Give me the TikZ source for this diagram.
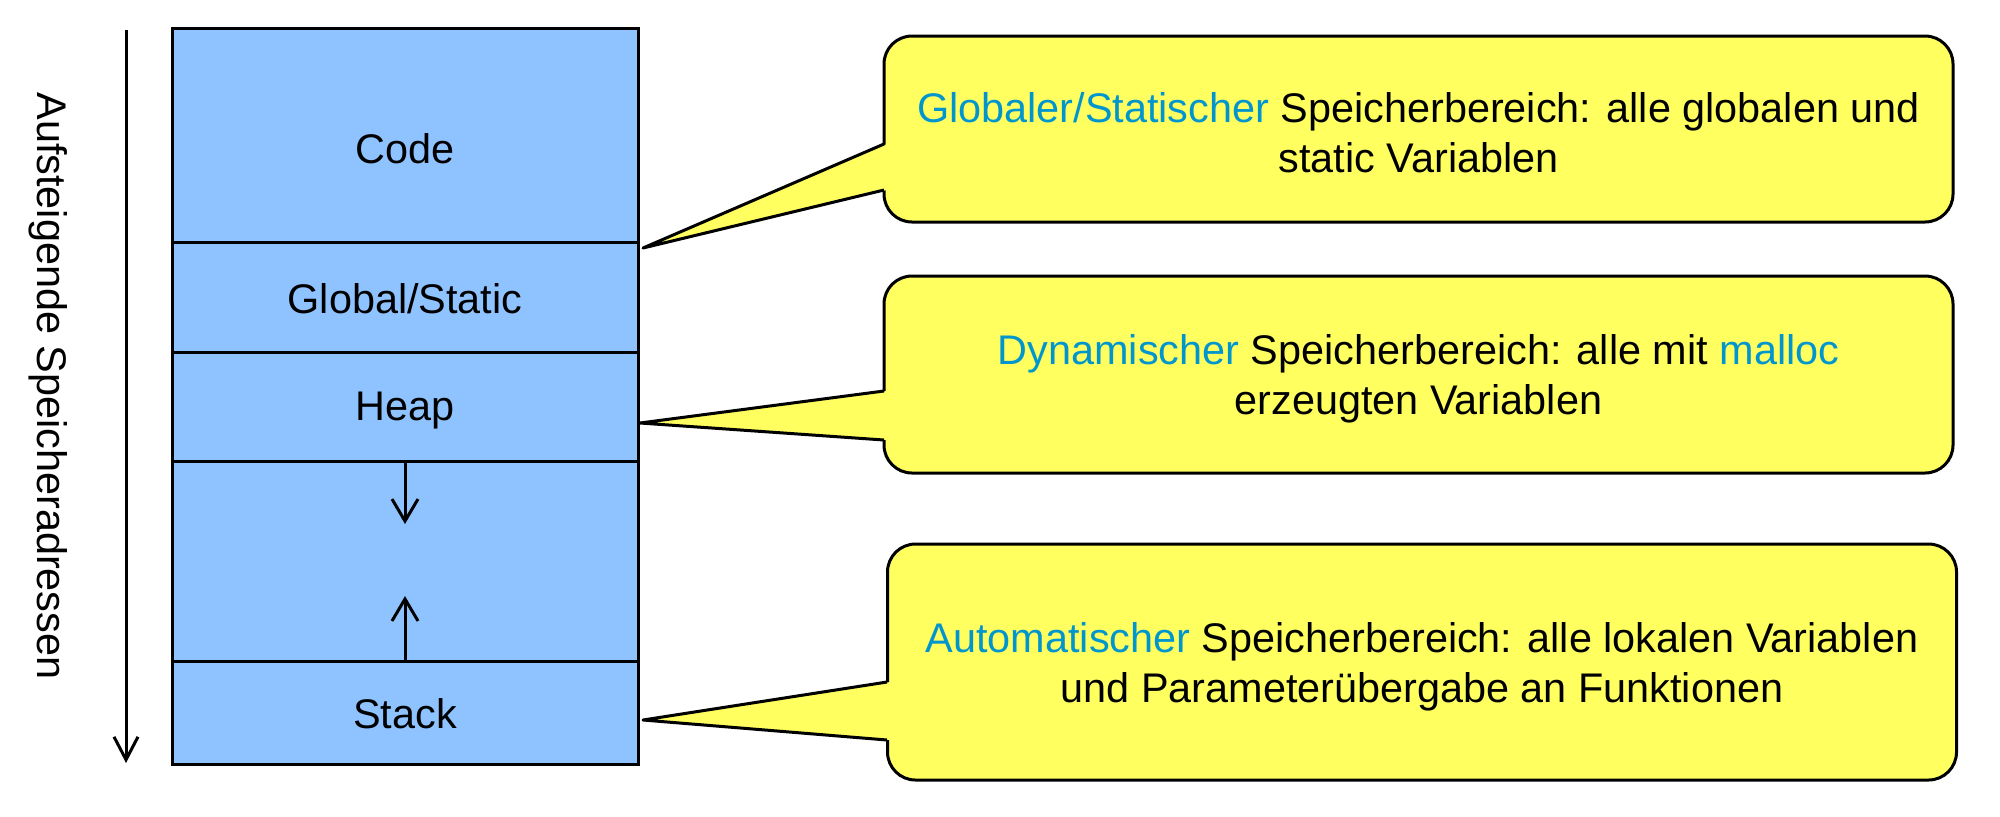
\documentclass[tikz,border=0pt]{standalone}
\usepackage{fontspec}
\setmainfont{Liberation Sans}
\usetikzlibrary{arrows.meta}
\definecolor{memblue}{RGB}{143,195,255}
\definecolor{callyellow}{RGB}{255,255,96}
\definecolor{hiblue}{RGB}{0,150,205}
\newcommand\figfont{\fontsize{20.7}{25}\selectfont}
\begin{document}
\begin{tikzpicture}[x=0.5pt,y=-0.5pt,
  seg/.style={draw=black, line width=1.5pt, fill=memblue, minimum width=233pt, inner sep=0pt},
  segtext/.style={font=\figfont, inner sep=0pt, text height=15pt, text depth=0pt},
  callout/.style={draw=black, line width=1.5pt, fill=callyellow, rounded corners=14pt,
    minimum width=534.5pt, inner sep=0pt},
  calltext/.style={inner sep=0pt, align=center, font=\figfont},
  pointer/.style={draw=black, line width=1.5pt, line join=round},
  growarrow/.style={line width=1.5pt, -{Straight Barb[length=11pt,width=13pt,line width=1.5pt]}},
  addrarrow/.style={line width=1.5pt, -{Straight Barb[length=11.5pt,width=12pt,line width=1.5pt]}}
]
\useasboundingbox (0,0) rectangle (2000,816);

% memory segments
\node[seg, minimum height=107pt]  (code)  at (405,135) {};
\node[seg, minimum height=55pt]   (glob)  at (405,297) {};
\node[seg, minimum height=54.5pt] (heap)  at (405,406.5) {};
\node[seg, minimum height=100pt]  (free)  at (405,561) {};
\node[seg, minimum height=51.5pt] (stack) at (405,712.5) {};

\node[segtext] (codet)  at (405,148) {Code};
\node[segtext] (globt)  at (405,298) {Global/Static};
\node[segtext] (heapt)  at (405,405) {Heap};
\node[segtext] (stackt) at (405,713) {Stack};

% growth arrows
\coordinate (hd) at (405,524);
\coordinate (su) at (405,596);
\draw[growarrow] (free.north) -- (hd);
\draw[growarrow] (free.south) -- (su);

% address arrow and label
\coordinate (aa) at (126,30);
\coordinate (ab) at (126,763);
\draw[addrarrow] (aa) -- (ab);
\node[segtext, rotate=-90] (addr) at (52,386) {Aufsteigende Speicheradressen};

% callouts
\node[callout, minimum height=93pt]   (c1) at (1418.5,129) {};
\node[callout, minimum height=98.5pt] (c2) at (1418.5,374.5) {};
\node[callout, minimum height=118pt]  (c3) at (1422,662) {};

% pointers
\coordinate (t1) at (643,248);
\coordinate (t2) at (640,423);
\coordinate (t3) at (643,720);

\fill[callyellow] (t1) -- (887,144) -- (887,190) -- cycle;
\draw[pointer] (884,144) -- (t1) -- (884,190);

\fill[callyellow] (t2) -- (887,391) -- (887,440) -- cycle;
\draw[pointer] (884,391) -- (t2) -- (884,440);

\fill[callyellow] (t3) -- (890,682) -- (890,740) -- cycle;
\draw[pointer] (887,682) -- (t3) -- (887,740);

% callout texts
\node[calltext] (c1t) at (1418.5,133)
  {\textcolor{hiblue}{Globaler/Statischer} Speicherbereich: alle globalen und\\static Variablen};
\node[calltext] (c2t) at (1418.5,379)
  {\textcolor{hiblue}{Dynamischer} Speicherbereich: alle mit \textcolor{hiblue}{malloc}\\erzeugten Variablen};
\node[calltext] (c3t) at (1422,667)
  {\textcolor{hiblue}{Automatischer} Speicherbereich: alle lokalen Variablen\\und Parameterübergabe an Funktionen};
\end{tikzpicture}
\end{document}
